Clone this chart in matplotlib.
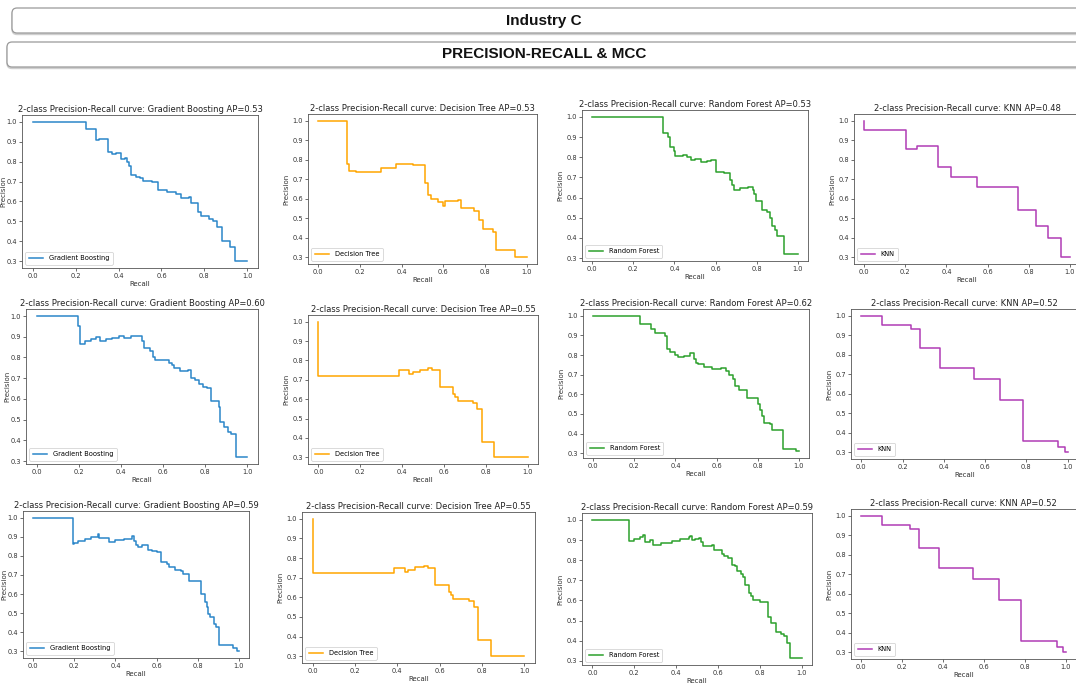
import matplotlib
matplotlib.use("Agg")
import matplotlib.pyplot as plt
from matplotlib.patches import FancyBboxPatch
from matplotlib.ticker import MultipleLocator

# ---------------- data ----------------
header_title = "Industry C"
section_title = "PRECISION-RECALL & MCC"

model_names = ["Gradient Boosting", "Decision Tree", "Random Forest", "KNN"]
model_colors = ["#2b86c9", "#ffa500", "#2ca02c", "#b03cb5"]

ap_row1 = [0.53, 0.53, 0.53, 0.48]
ap_row2 = [0.60, 0.55, 0.62, 0.52]
ap_row3 = [0.59, 0.55, 0.59, 0.52]

# Row 1
gb1_recall = [0, 0.247, 0.297, 0.31, 0.352, 0.37, 0.39, 0.41, 0.43, 0.44, 0.45, 0.46, 0.48, 0.50,
              0.515, 0.555, 0.585, 0.625, 0.67, 0.69, 0.73, 0.74, 0.77, 0.785, 0.82, 0.84, 0.86,
              0.883, 0.92, 0.945, 1.0]
gb1_precision = [1.0, 0.965, 0.908, 0.915, 0.85, 0.84, 0.845, 0.815, 0.82, 0.80, 0.78, 0.735, 0.725,
                 0.72, 0.705, 0.70, 0.66, 0.65, 0.635, 0.615, 0.62, 0.59, 0.545, 0.525, 0.51, 0.50,
                 0.47, 0.40, 0.37, 0.30, 0.30]

dt1_recall = [0, 0.139, 0.148, 0.18, 0.30, 0.373, 0.453, 0.512, 0.525, 0.54, 0.576, 0.60, 0.61,
              0.672, 0.686, 0.749, 0.771, 0.792, 0.84, 0.851, 0.944, 1.0]
dt1_precision = [1.0, 0.78, 0.74, 0.735, 0.76, 0.78, 0.775, 0.68, 0.62, 0.60, 0.585, 0.565, 0.59,
                 0.595, 0.55, 0.535, 0.49, 0.445, 0.43, 0.335, 0.30, 0.30]

rf1_recall = [0, 0.342, 0.37, 0.38, 0.40, 0.405, 0.44, 0.46, 0.48, 0.50, 0.53, 0.56, 0.58, 0.60,
              0.64, 0.67, 0.68, 0.69, 0.72, 0.76, 0.78, 0.785, 0.795, 0.826, 0.85, 0.865, 0.875,
              0.89, 0.90, 0.935, 1.0]
rf1_precision = [1.0, 0.92, 0.90, 0.85, 0.83, 0.805, 0.81, 0.80, 0.785, 0.79, 0.775, 0.78, 0.785,
                 0.725, 0.72, 0.685, 0.66, 0.64, 0.65, 0.655, 0.64, 0.62, 0.585, 0.54, 0.53, 0.50,
                 0.46, 0.44, 0.41, 0.32, 0.32]

knn1_recall = [0, 0, 0.203, 0.256, 0.357, 0.421, 0.551, 0.749, 0.838, 0.895, 0.956, 1.0]
knn1_precision = [1.0, 0.952, 0.857, 0.87, 0.765, 0.71, 0.66, 0.54, 0.46, 0.40, 0.30, 0.30]

# Row 2
gb2_recall = [0, 0.196, 0.204, 0.23, 0.26, 0.28, 0.30, 0.33, 0.36, 0.39, 0.415, 0.45, 0.50, 0.51,
              0.54, 0.55, 0.56, 0.60, 0.63, 0.64, 0.65, 0.68, 0.72, 0.73, 0.75, 0.77, 0.79, 0.81,
              0.825, 0.865, 0.87, 0.89, 0.91, 0.92, 0.948, 1.0]
gb2_precision = [1.0, 0.95, 0.867, 0.878, 0.89, 0.898, 0.88, 0.888, 0.895, 0.905, 0.895, 0.902,
                 0.88, 0.845, 0.83, 0.80, 0.787, 0.79, 0.775, 0.765, 0.748, 0.736, 0.74, 0.703,
                 0.69, 0.673, 0.66, 0.653, 0.59, 0.56, 0.49, 0.463, 0.44, 0.433, 0.32, 0.32]

dt2_recall = [0, 0, 0.386, 0.434, 0.45, 0.485, 0.526, 0.545, 0.58, 0.644, 0.655, 0.665, 0.737,
              0.76, 0.781, 0.84, 1.0]
dt2_precision = [1.0, 0.722, 0.75, 0.729, 0.741, 0.753, 0.762, 0.75, 0.663, 0.625, 0.61, 0.589,
                 0.582, 0.55, 0.38, 0.30, 0.30]

rf2_recall = [0, 0.225, 0.25, 0.283, 0.30, 0.35, 0.36, 0.375, 0.40, 0.41, 0.44, 0.47, 0.49, 0.50,
              0.51, 0.54, 0.58, 0.60, 0.62, 0.646, 0.66, 0.68, 0.69, 0.71, 0.75, 0.80, 0.81, 0.82,
              0.83, 0.86, 0.87, 0.924, 0.985, 1.0]
rf2_precision = [1.0, 0.957, 0.96, 0.935, 0.912, 0.895, 0.83, 0.817, 0.80, 0.79, 0.797, 0.808,
                 0.78, 0.76, 0.753, 0.74, 0.73, 0.728, 0.735, 0.72, 0.70, 0.68, 0.64, 0.62, 0.58,
                 0.55, 0.52, 0.49, 0.455, 0.45, 0.42, 0.32, 0.31, 0.31]

knn2_recall = [0, 0.10, 0.24, 0.282, 0.382, 0.544, 0.672, 0.782, 0.955, 0.987, 1.0]
knn2_precision = [1.0, 0.955, 0.93, 0.835, 0.734, 0.674, 0.566, 0.355, 0.326, 0.30, 0.30]

# Row 3
gb3_recall = [0, 0.194, 0.197, 0.22, 0.25, 0.28, 0.315, 0.32, 0.37, 0.40, 0.44, 0.482, 0.49, 0.50,
              0.51, 0.53, 0.558, 0.58, 0.60, 0.623, 0.65, 0.66, 0.69, 0.72, 0.73, 0.76, 0.814,
              0.835, 0.845, 0.85, 0.86, 0.88, 0.89, 0.906, 0.97, 0.99, 1.0]
gb3_precision = [1.0, 0.86, 0.87, 0.88, 0.89, 0.90, 0.912, 0.895, 0.874, 0.882, 0.89, 0.905, 0.88,
                 0.856, 0.848, 0.855, 0.83, 0.825, 0.818, 0.769, 0.755, 0.743, 0.725, 0.72, 0.704,
                 0.669, 0.602, 0.559, 0.53, 0.497, 0.48, 0.445, 0.428, 0.335, 0.32, 0.30, 0.30]

dt3_recall = [0, 0, 0.386, 0.434, 0.45, 0.485, 0.526, 0.545, 0.58, 0.644, 0.655, 0.665, 0.737,
              0.76, 0.781, 0.84, 1.0]
dt3_precision = [1.0, 0.722, 0.75, 0.729, 0.741, 0.753, 0.762, 0.75, 0.663, 0.625, 0.61, 0.589,
                 0.582, 0.55, 0.38, 0.30, 0.30]

rf3_recall = [0, 0.175, 0.20, 0.225, 0.24, 0.25, 0.275, 0.29, 0.33, 0.38, 0.42, 0.46, 0.467, 0.475,
              0.49, 0.51, 0.52, 0.53, 0.573, 0.58, 0.62, 0.63, 0.65, 0.665, 0.68, 0.69, 0.71, 0.72,
              0.73, 0.75, 0.76, 0.77, 0.80, 0.84, 0.855, 0.88, 0.90, 0.915, 0.93, 0.944, 1.0]
rf3_precision = [1.0, 0.895, 0.905, 0.915, 0.925, 0.89, 0.90, 0.876, 0.885, 0.895, 0.905, 0.915,
                 0.92, 0.90, 0.905, 0.91, 0.89, 0.868, 0.875, 0.85, 0.83, 0.82, 0.813, 0.776, 0.77,
                 0.746, 0.73, 0.715, 0.678, 0.636, 0.62, 0.60, 0.593, 0.517, 0.488, 0.446, 0.435,
                 0.424, 0.39, 0.314, 0.314]

knn3_recall = [0, 0.10, 0.24, 0.282, 0.382, 0.544, 0.672, 0.782, 0.955, 0.987, 1.0]
knn3_precision = [1.0, 0.955, 0.93, 0.835, 0.734, 0.674, 0.566, 0.355, 0.326, 0.30, 0.30]

# ---------------- layout ----------------
W, H = 1076, 684
fig = plt.figure(figsize=(W / 100, H / 100), dpi=100)
fig.patch.set_facecolor("white")


def px_rect(left, top, right, bottom):
    return [left / W, 1 - bottom / H, (right - left) / W, (bottom - top) / H]


def header_box(left, top, right, bottom, text):
    x0, y0 = left / 100, (H - bottom) / 100
    w, h = (right - left) / 100, (bottom - top) / 100
    shadow = FancyBboxPatch((x0, y0 - 0.015), w, h, boxstyle="round,pad=0,rounding_size=0.05",
                            transform=fig.dpi_scale_trans, facecolor="#d6d6d6",
                            edgecolor="#cfcfcf", linewidth=1.0, zorder=0)
    box = FancyBboxPatch((x0, y0), w, h, boxstyle="round,pad=0,rounding_size=0.05",
                         transform=fig.dpi_scale_trans, facecolor="white",
                         edgecolor="#9a9a9a", linewidth=0.9, zorder=1)
    fig.patches.extend([shadow, box])
    fig.text(544 / W, 1 - ((top + bottom) / 2) / H, text, ha="center", va="center",
             fontsize=11, fontweight="bold", family="Liberation Sans", color="#111111")


header_box(12, 8, 1100, 33, header_title)
header_box(7, 42, 1100, 67, section_title)

axes_px = [
    [(22, 115, 258, 268), (308, 114, 537, 264), (582, 110, 808, 261), (854, 114, 1080, 264)],
    [(26, 309, 258, 464), (308, 315, 538, 464), (583, 309, 809, 458), (851, 309, 1078, 459)],
    [(23, 511, 249, 658), (302, 512, 535, 663), (582, 513, 812, 665), (851, 509, 1076, 659)],
]

curves = [
    [(gb1_recall, gb1_precision), (dt1_recall, dt1_precision),
     (rf1_recall, rf1_precision), (knn1_recall, knn1_precision)],
    [(gb2_recall, gb2_precision), (dt2_recall, dt2_precision),
     (rf2_recall, rf2_precision), (knn2_recall, knn2_precision)],
    [(gb3_recall, gb3_precision), (dt3_recall, dt3_precision),
     (rf3_recall, rf3_precision), (knn3_recall, knn3_precision)],
]
ap_rows = [ap_row1, ap_row2, ap_row3]

for r in range(3):
    for c in range(4):
        ax = fig.add_axes(px_rect(*axes_px[r][c]))
        rec, prec = curves[r][c]
        ax.plot(rec, prec, drawstyle="steps-post", color=model_colors[c], lw=1.1,
                label=model_names[c])
        ax.set_title(f"2-class Precision-Recall curve: {model_names[c]} AP={ap_rows[r][c]:.2f}",
                     fontsize=6.0, pad=2.5, color="#222222")
        ax.set_xlabel("Recall", fontsize=5, labelpad=1.5, color="#333333")
        ax.set_ylabel("Precision", fontsize=5, labelpad=(0.3 if c == 0 else 2),
                      color="#333333")
        ax.xaxis.set_major_locator(MultipleLocator(0.2))
        ax.yaxis.set_major_locator(MultipleLocator(0.1))
        ax.tick_params(labelsize=4.8, length=2, width=0.5, pad=1.5, colors="#333333")
        for s in ax.spines.values():
            s.set_linewidth(0.6)
            s.set_color("#555555")
        leg = ax.legend(loc="lower left", fontsize=4.8, handlelength=2.2, borderpad=0.5,
                        framealpha=1)
        leg.get_frame().set_linewidth(0.5)

fig.savefig("out.png", dpi=100, facecolor="white")
